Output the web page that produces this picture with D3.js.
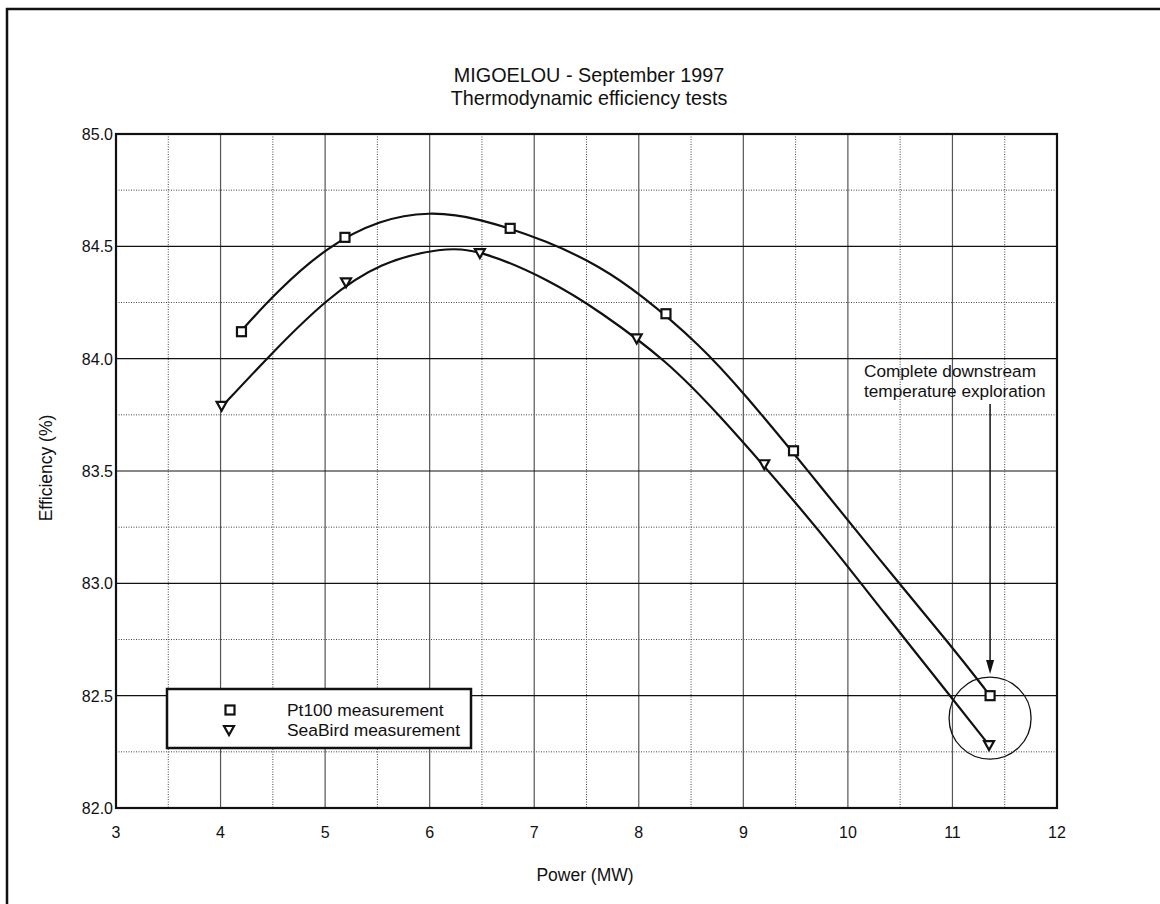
<!DOCTYPE html>
<html>
<head>
<meta charset="utf-8">
<script src="https://cdn.jsdelivr.net/npm/d3@7"></script>
<style>
  body { margin: 0; background: #fff; }
  text { font-family: Arial, "Liberation Sans", Helvetica, sans-serif; fill: #111; }
</style>
</head>
<body>
<div id="chart"></div>
<script>
const pt100X = [4.20, 5.19, 6.77, 8.26, 9.48, 11.36];
const pt100Y = [84.12, 84.54, 84.58, 84.20, 83.59, 82.50];
const seabirdX = [4.01, 5.20, 6.48, 7.98, 9.20, 11.35];
const seabirdY = [83.79, 84.34, 84.47, 84.09, 83.53, 82.28];

// Curvas ajustadas
const pt100FitX = [4.19, 4.54, 5.02, 5.53, 5.99, 6.45, 7.15, 7.63, 8.01, 8.59, 9.00, 9.64, 10.24, 11.01, 11.36];
const pt100FitY = [84.12, 84.30, 84.50, 84.62, 84.655, 84.63, 84.52, 84.41, 84.29, 84.06, 83.85, 83.49, 83.14, 82.71, 82.50];
const seabirdFitX = [4.02, 4.50, 5.02, 5.53, 6.12, 6.48, 7.15, 7.63, 8.27, 8.75, 9.41, 9.89, 10.31, 11.01, 11.35];
const seabirdFitY = [83.79, 84.03, 84.27, 84.43, 84.495, 84.485, 84.35, 84.21, 83.99, 83.76, 83.41, 83.14, 82.89, 82.48, 82.28];

const xTicks = [3, 4, 5, 6, 7, 8, 9, 10, 11, 12];
const yTicks = [82.0, 82.5, 83.0, 83.5, 84.0, 84.5, 85.0];

const titleLines = ["MIGOELOU - September 1997", "Thermodynamic efficiency tests"];
const legendLabels = ["Pt100 measurement", "SeaBird measurement"];
const noteLines = ["Complete downstream", "temperature exploration"];
const noteX = 11.36, noteY = 82.40;   // circulo de la anotacion

const width = 1160, height = 904;
const plot = { left: 116, right: 1057, top: 134, bottom: 808 };

const svg = d3.select("#chart").append("svg")
    .attr("width", width)
    .attr("height", height);

// Marco exterior (solo arriba e izquierda visibles)
svg.append("path")
    .attr("d", `M7,${height} L7,9 L${width},9`)
    .attr("fill", "none")
    .attr("stroke", "#111")
    .attr("stroke-width", 2.5);

const x = d3.scaleLinear().domain([3, 12]).range([plot.left, plot.right]);
const y = d3.scaleLinear().domain([82, 85]).range([plot.bottom, plot.top]);

// Rejilla menor (punteada) y mayor (continua)
const minorX = d3.range(3.5, 12, 1);
const minorY = d3.range(82.25, 85, 0.5);
const grid = svg.append("g");
grid.selectAll(".vmin").data(minorX).enter().append("line")
    .attr("x1", d => x(d)).attr("x2", d => x(d))
    .attr("y1", plot.top).attr("y2", plot.bottom)
    .attr("stroke", "#444").attr("stroke-width", 1).attr("stroke-dasharray", "1,1.5");
grid.selectAll(".hmin").data(minorY).enter().append("line")
    .attr("y1", d => y(d)).attr("y2", d => y(d))
    .attr("x1", plot.left).attr("x2", plot.right)
    .attr("stroke", "#444").attr("stroke-width", 1).attr("stroke-dasharray", "1,1.5");
grid.selectAll(".vmaj").data(xTicks.slice(1, -1)).enter().append("line")
    .attr("x1", d => x(d)).attr("x2", d => x(d))
    .attr("y1", plot.top).attr("y2", plot.bottom)
    .attr("stroke", "#555").attr("stroke-width", 1.2);
grid.selectAll(".hmaj").data(yTicks.slice(1, -1)).enter().append("line")
    .attr("y1", d => y(d)).attr("y2", d => y(d))
    .attr("x1", plot.left).attr("x2", plot.right)
    .attr("stroke", "#111").attr("stroke-width", 1.2);

// Caja del grafico
svg.append("rect")
    .attr("x", plot.left).attr("y", plot.top)
    .attr("width", plot.right - plot.left).attr("height", plot.bottom - plot.top)
    .attr("fill", "none").attr("stroke", "#111").attr("stroke-width", 2.2);

// Etiquetas de los ejes
svg.selectAll(".xlab").data(xTicks).enter().append("text")
    .attr("x", d => x(d)).attr("y", 838)
    .attr("text-anchor", "middle").attr("font-size", 16)
    .text(d => d);
svg.selectAll(".ylab").data(yTicks).enter().append("text")
    .attr("x", plot.left - 3).attr("y", d => y(d) + 6)
    .attr("text-anchor", "end").attr("font-size", 16)
    .text(d => d.toFixed(1));

svg.append("text")
    .attr("x", 585).attr("y", 881)
    .attr("text-anchor", "middle").attr("font-size", 17.5)
    .text("Power (MW)");
svg.append("text")
    .attr("transform", "translate(52,468) rotate(-90)")
    .attr("text-anchor", "middle").attr("font-size", 17.5)
    .text("Efficiency (%)");

// Titulo
svg.selectAll(".title").data(titleLines).enter().append("text")
    .attr("x", 589).attr("y", (d, i) => 82 + i * 23)
    .attr("text-anchor", "middle").attr("font-size", 19.8)
    .text(d => d);

// Curvas
const line = d3.line()
    .x(d => x(d[0]))
    .y(d => y(d[1]))
    .curve(d3.curveBasis);

const pt100Fit = d3.zip(pt100FitX, pt100FitY);
const seabirdFit = d3.zip(seabirdFitX, seabirdFitY);
[pt100Fit, seabirdFit].forEach(c => {
    svg.append("path")
        .attr("d", line(c))
        .attr("fill", "none")
        .attr("stroke", "#111")
        .attr("stroke-width", 2.2);
});

// Marcadores
function square(g, cx, cy) {
    g.append("rect")
        .attr("x", cx - 4.5).attr("y", cy - 4.5)
        .attr("width", 9).attr("height", 9)
        .attr("fill", "#fff").attr("stroke", "#111").attr("stroke-width", 2.2);
}
function triangle(g, cx, cy) {
    g.append("path")
        .attr("d", `M${cx - 5},${cy - 4} L${cx + 5},${cy - 4} L${cx},${cy + 5} Z`)
        .attr("fill", "#fff").attr("stroke", "#111").attr("stroke-width", 2.2);
}
const marks = svg.append("g");
d3.zip(pt100X, pt100Y).forEach(d => square(marks, x(d[0]), y(d[1])));
d3.zip(seabirdX, seabirdY).forEach(d => triangle(marks, x(d[0]), y(d[1])));

// Leyenda
const legend = svg.append("g");
legend.append("rect")
    .attr("x", 167).attr("y", 689).attr("width", 304).attr("height", 59)
    .attr("fill", "#fff").attr("stroke", "#111").attr("stroke-width", 2.5);
square(legend, 230, 710);
triangle(legend, 229, 730);
legend.selectAll(".ltxt").data(legendLabels).enter().append("text")
    .attr("x", 287).attr("y", (d, i) => 716 + i * 19.5)
    .attr("font-size", 17.4)
    .text(d => d);

// Anotacion
svg.selectAll(".note").data(noteLines).enter().append("text")
    .attr("x", 864).attr("y", (d, i) => 377 + i * 20)
    .attr("font-size", 17.2)
    .text(d => d);

const ax = x(noteX);
svg.append("line")
    .attr("x1", ax).attr("x2", ax)
    .attr("y1", 404).attr("y2", 664)
    .attr("stroke", "#111").attr("stroke-width", 1.5);
svg.append("path")
    .attr("d", `M${ax - 4},${660} L${ax + 4},${660} L${ax},${674} Z`)
    .attr("fill", "#111");

svg.append("circle")
    .attr("cx", ax).attr("cy", y(noteY))
    .attr("r", 41)
    .attr("fill", "none")
    .attr("stroke", "#111")
    .attr("stroke-width", 1.3);
</script>
</body>
</html>
